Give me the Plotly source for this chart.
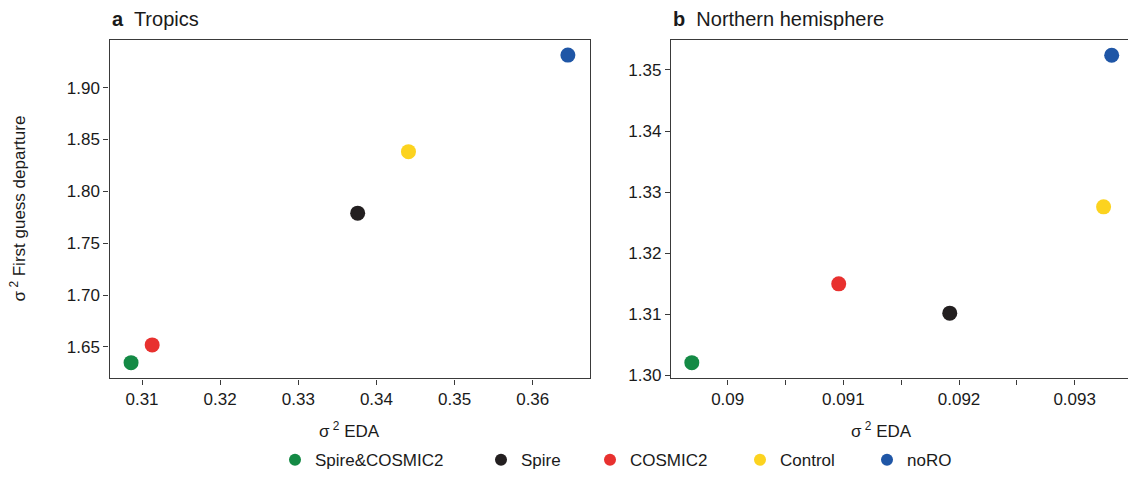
import plotly.graph_objects as go
from plotly.subplots import make_subplots

# Experiments and their colours
series = ["Spire&COSMIC2", "Spire", "COSMIC2", "Control", "noRO"]
colors = ["#148a45", "#231f20", "#e8312f", "#fcd31f", "#1f56a6"]

# Panel a: Tropics
tropics_eda = [0.3086, 0.3376, 0.3113, 0.3441, 0.3645]
tropics_fg = [1.6348, 1.7790, 1.6519, 1.8383, 1.9314]

# Panel b: Northern hemisphere
nh_eda = [0.08969, 0.09192, 0.09096, 0.09325, 0.09332]
nh_fg = [1.3021, 1.3102, 1.3150, 1.3276, 1.3524]

W, H = 1128, 481
FONT = "Liberation Sans, Arial, Helvetica, sans-serif"
TXT = "#1a1a1a"
AX = "#3a3a3a"

def px_x(p):
    return p / W

def px_y(p):
    return 1 - p / H

fig = make_subplots(rows=1, cols=2)

legend_names = ["legend", "legend2", "legend3", "legend4", "legend5"]
for i, name in enumerate(series):
    fig.add_trace(go.Scatter(
        x=[tropics_eda[i]], y=[tropics_fg[i]], mode="markers", name=name,
        marker=dict(color=colors[i], size=15, line=dict(width=0)),
        showlegend=True, legend=legend_names[i]), row=1, col=1)
    fig.add_trace(go.Scatter(
        x=[nh_eda[i]], y=[nh_fg[i]], mode="markers", name=name,
        marker=dict(color=colors[i], size=15, line=dict(width=0)),
        showlegend=False), row=1, col=2)

top, bottom = 41, 384
ydom = [px_y(bottom), px_y(top)]

axis_common = dict(
    showline=True, linecolor=AX, linewidth=1.3, ticks="outside", ticklen=5,
    tickwidth=1, tickcolor=AX, showgrid=False, zeroline=False,
    tickfont=dict(family=FONT, size=17, color=TXT),
)

fig.update_layout(
    xaxis=dict(domain=[px_x(109.5), px_x(590)], range=[0.30584, 0.36733],
               tickvals=[0.31, 0.32, 0.33, 0.34, 0.35, 0.36],
               ticktext=["0.31", "0.32", "0.33", "0.34", "0.35", "0.36"],
               mirror=True, **axis_common),
    yaxis=dict(domain=ydom, range=[1.6196, 1.9456],
               tickvals=[1.65, 1.70, 1.75, 1.80, 1.85, 1.90],
               ticktext=["1.65", "1.70", "1.75", "1.80", "1.85", "1.90"],
               mirror=True, **axis_common),
    xaxis2=dict(domain=[px_x(671), 1.0], range=[0.08951, 0.093461],
                tickvals=[0.090, 0.091, 0.092, 0.093],
                ticktext=["0.09", "0.091", "0.092", "0.093"],
                minor=dict(ticks="outside", ticklen=5, tickcolor=AX,
                           tickvals=[0.0895, 0.0905, 0.0915, 0.0925]),
                mirror=True, **axis_common),
    yaxis2=dict(domain=ydom, range=[1.29952, 1.35484],
                tickvals=[1.30, 1.31, 1.32, 1.33, 1.34, 1.35],
                ticktext=["1.30", "1.31", "1.32", "1.33", "1.34", "1.35"],
                **axis_common),
)

# One legend per experiment so each entry sits at its own position
legend_x = [296, 502, 611, 761, 888]
for lname, cx in zip(legend_names, legend_x):
    fig.update_layout({lname: dict(
        x=px_x(cx - 21), y=px_y(467), xanchor="left", yanchor="middle",
        orientation="h", bgcolor="rgba(0,0,0,0)", borderwidth=0,
        itemsizing="constant",
        font=dict(family=FONT, size=17, color=TXT))})

annotations = [
    dict(x=px_x(109.5), y=px_y(19), text="<b>a</b>  Tropics",
         xanchor="left", yanchor="middle"),
    dict(x=px_x(671), y=px_y(19), text="<b>b</b>  Northern hemisphere",
         xanchor="left", yanchor="middle"),
    dict(x=px_x(349), y=px_y(436), text="σ<sup> 2</sup> EDA",
         xanchor="center", yanchor="middle", size=17),
    dict(x=px_x(881), y=px_y(436), text="σ<sup> 2</sup> EDA",
         xanchor="center", yanchor="middle", size=17),
    dict(x=px_x(18), y=px_y(211.5), text="σ<sup> 2</sup> First guess departure",
         xanchor="center", yanchor="middle", textangle=-90, size=17),
]
for a in annotations:
    size = a.pop("size", 20)
    fig.add_annotation(xref="paper", yref="paper", showarrow=False,
                       font=dict(family=FONT, size=size, color=TXT), **a)

fig.update_layout(
    width=W, height=H, margin=dict(l=0, r=0, t=0, b=0),
    paper_bgcolor="white", plot_bgcolor="white",
)

fig.write_html("out.html")
